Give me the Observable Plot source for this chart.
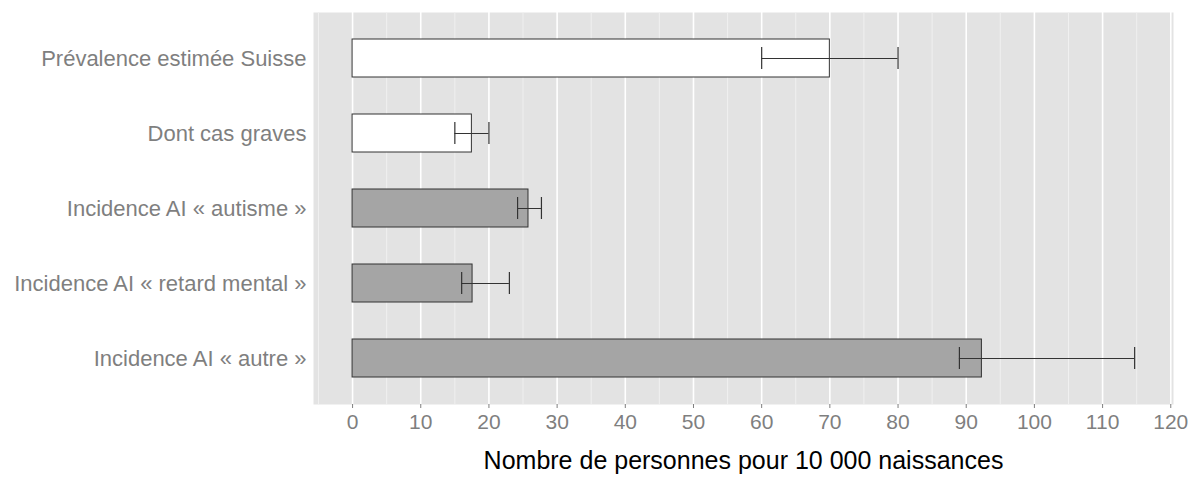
<!DOCTYPE html>
<html>
<head>
<meta charset="utf-8">
<script src="https://cdn.jsdelivr.net/npm/d3@7"></script>
<script src="https://cdn.jsdelivr.net/npm/@observablehq/plot@0.6"></script>
<style>
  html, body { margin: 0; padding: 0; background: white; }
</style>
</head>
<body>
<div id="chart"></div>
<script>
const categories = [
  "Prévalence estimée Suisse",
  "Dont cas graves",
  "Incidence AI « autisme »",
  "Incidence AI « retard mental »",
  "Incidence AI « autre »"
];
const values = [70, 17.5, 25.8, 17.6, 92.3];
const lower  = [60, 15.0, 24.2, 16.0, 89.0];
const upper  = [80, 20.0, 27.7, 23.0, 114.7];
const sources = ["estimation", "estimation", "AI", "AI", "AI"];
const majorTicks = [0, 10, 20, 30, 40, 50, 60, 70, 80, 90, 100, 110, 120];
const minorTicks = [-5, 5, 15, 25, 35, 45, 55, 65, 75, 85, 95, 105, 115];
const xTitle = "Nombre de personnes pour 10 000 naissances";

const data = categories.map((c, i) => ({
  cat: c, value: values[i], lo: lower[i], hi: upper[i], source: sources[i]
}));

const chart = Plot.plot({
  width: 1189,
  height: 479,
  marginLeft: 313,
  marginRight: 16,
  marginTop: 12,
  marginBottom: 75,
  style: { fontFamily: "'Liberation Sans', Arial, Helvetica, sans-serif", background: "white" },
  x: { domain: [-5.73, 120.4] },
  y: { domain: categories, paddingInner: 0.5, paddingOuter: 0.35 },
  color: { domain: ["estimation", "AI"], range: ["white", "#a5a5a5"] },
  marks: [
    Plot.frame({ fill: "#e3e3e3", stroke: "none" }),
    Plot.ruleX(minorTicks, { stroke: "#f0f0f0", strokeWidth: 1 }),
    Plot.ruleX(majorTicks, { stroke: "white", strokeWidth: 1.6 }),
    Plot.barX(data, { x1: 0, x2: "value", y: "cat", fill: "source", stroke: "#333", strokeWidth: 1 }),
    Plot.ruleY(data, { y: "cat", x1: "lo", x2: "hi", stroke: "#333", strokeWidth: 1 }),
    Plot.tickX(data, { x: "lo", y: "cat", insetTop: 8, insetBottom: 8, stroke: "#333", strokeWidth: 1.2 }),
    Plot.tickX(data, { x: "hi", y: "cat", insetTop: 8, insetBottom: 8, stroke: "#333", strokeWidth: 1.2 }),
    Plot.axisX({ ticks: majorTicks, tickSize: 4, tickPadding: 6, fontSize: 21, color: "#7f7f7f", label: null, tickFormat: d => String(d) }),
    Plot.axisY({ tickSize: 0, tickPadding: 7, fontSize: 22, color: "#7f7f7f", label: null }),
    Plot.text([xTitle], { frameAnchor: "bottom", dy: 64, fontSize: 25, fill: "black" })
  ]
});
document.getElementById("chart").appendChild(chart);
</script>
</body>
</html>
